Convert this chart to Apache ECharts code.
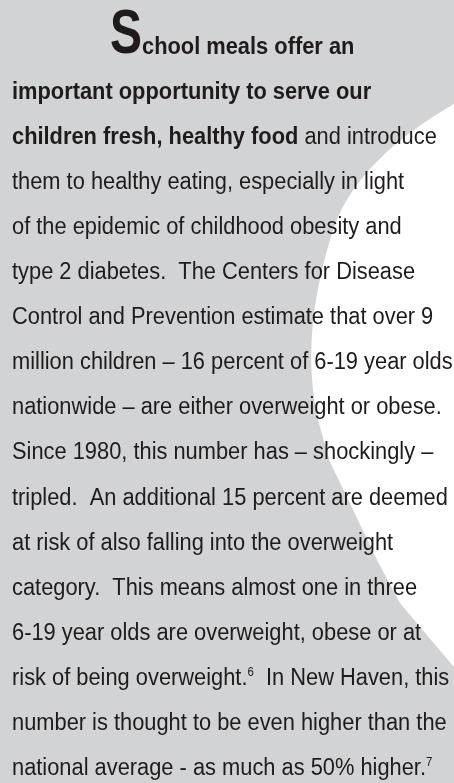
<!DOCTYPE html>
<html>
<head>
<meta charset="utf-8">
<script src="https://cdn.jsdelivr.net/npm/echarts@6/dist/echarts.min.js"></script>
<style>
  html, body { margin: 0; padding: 0; background: #d1d3d4; }
  #main { width: 454px; height: 783px; }
</style>
</head>
<body>
<div id="main"></div>
<script>
// text of the panel, one entry per printed line
// {b|..} = bold run, {sup|..} = footnote mark
const dropCap = 'S'
const firstLine = 'chool meals offer an'
const bodyLines = [
  '{b|important opportunity to serve our}',
  '{b|children fresh, healthy food} and introduce',
  'them to healthy eating, especially in light',
  'of the epidemic of childhood obesity and',
  'type 2 diabetes.  The Centers for Disease',
  'Control and Prevention estimate that over 9',
  'million children \u2013 16 percent of 6-19 year olds',
  'nationwide \u2013 are either overweight or obese.',
  'Since 1980, this number has \u2013 shockingly \u2013',
  'tripled.  An additional 15 percent are deemed',
  'at risk of also falling into the overweight',
  'category.  This means almost one in three',
  '6-19 year olds are overweight, obese or at',
  'risk of being overweight.{sup|6}  In New Haven, this',
  'number is thought to be even higher than the',
  'national average - as much as 50% higher.{sup|7}'
]

const fontFamily = '"Liberation Sans", Arial, sans-serif'
const ink = '#1f1b1c'
const left = 12
const firstBase = 100.7
const lineStep = 45.05
const fontSize = 23
const capSize = 63

// horizontal squeeze so the condensed face of the print is matched
const ctx = document.createElement('canvas').getContext('2d')
ctx.font = fontSize + 'px ' + fontFamily
const squeeze = 414 / ctx.measureText('national average - as much as 50% higher.').width
ctx.font = 'bold ' + capSize + 'px ' + fontFamily
const capSqueeze = 32 / ctx.measureText(dropCap).width
const mid = (size) => size * 0.3465

// white cut-out along the right edge
const Cutout = echarts.graphic.extendShape({
  shape: {},
  buildPath(c) {
    c.moveTo(454, 104)
    c.bezierCurveTo(400, 135, 345, 180, 330, 240)
    c.bezierCurveTo(312, 300, 305, 360, 318, 420)
    c.lineTo(330, 462)
    c.lineTo(345, 493)
    c.lineTo(377, 560)
    c.lineTo(400, 603)
    c.lineTo(420, 627)
    c.lineTo(454, 667)
    c.closePath()
  }
})
echarts.graphic.registerShape('cutout', Cutout)

const chart = echarts.init(document.getElementById('main'))

const graphic = [
  {
    type: 'rect',
    shape: { x: 0, y: 0, width: 454, height: 783 },
    style: { fill: '#d1d3d4' },
    silent: true
  },
  {
    type: 'cutout',
    shape: {},
    style: { fill: '#ffffff' },
    silent: true
  },
  {
    type: 'text',
    x: 110, y: firstBase - lineStep - mid(capSize) + 1.4,
    scaleX: capSqueeze,
    style: {
      text: dropCap,
      fontFamily: fontFamily, fontWeight: 'bold', fontSize: capSize,
      fill: ink, verticalAlign: 'middle', lineHeight: capSize
    }
  },
  {
    type: 'text',
    x: 142, y: firstBase - lineStep - mid(fontSize),
    scaleX: squeeze,
    style: {
      text: firstLine,
      fontFamily: fontFamily, fontWeight: 'bold', fontSize: fontSize,
      fill: ink, verticalAlign: 'middle', lineHeight: fontSize
    }
  }
]

bodyLines.forEach((line, i) => {
  graphic.push({
    type: 'text',
    x: left,
    y: firstBase + i * lineStep - mid(fontSize),
    scaleX: squeeze,
    style: {
      text: line,
      fontFamily: fontFamily, fontSize: fontSize, fill: ink,
      verticalAlign: 'middle', lineHeight: fontSize,
      rich: {
        b: { fontFamily: fontFamily, fontWeight: 'bold', fontSize: fontSize, fill: ink, lineHeight: fontSize },
        sup: { fontFamily: fontFamily, fontSize: 12, fill: ink, lineHeight: 12, verticalAlign: 'top' }
      }
    }
  })
})

chart.setOption({
  animation: false,
  graphic: graphic
})
</script>
</body>
</html>
